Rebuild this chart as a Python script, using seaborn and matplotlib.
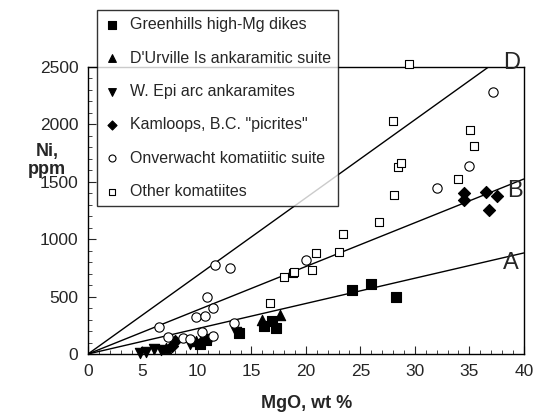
import numpy as np
import matplotlib
matplotlib.use("Agg")
import matplotlib.pyplot as plt
import seaborn as sns
from matplotlib.ticker import MultipleLocator

sns.set_style("ticks")
plt.rcParams["font.family"] = ["Liberation Sans", "DejaVu Sans"]

# data
greenhills_x = [10.3, 10.8, 13.9, 16.2, 16.9, 17.3, 24.2, 26.0, 28.3]
greenhills_y = [85, 125, 183, 240, 285, 226, 557, 610, 497]

durville_x = [7.2, 9.9, 10.5, 16.0, 17.6]
durville_y = [50, 110, 135, 300, 340]

epi_x = [4.8, 5.3, 6.1, 6.7, 9.4, 11.2, 13.6]
epi_y = [10, 20, 40, 35, 90, 130, 190]

kamloops_x = [7.7, 8.0, 34.5, 34.5, 36.5, 37.5, 36.8]
kamloops_y = [70, 115, 1400, 1340, 1410, 1375, 1250]

onver_x = [6.5, 7.3, 8.7, 9.4, 9.9, 10.5, 10.7, 10.9, 11.5, 11.5, 11.7, 13.0, 13.4, 20.0, 32.0, 35.0, 37.2]
onver_y = [235, 148, 139, 131, 322, 192, 331, 497, 401, 157, 775, 749, 270, 819, 1446, 1638, 2282]

other_x = [16.7, 18.0, 18.8, 18.9, 20.6, 20.9, 23.0, 23.4, 26.7, 28.1, 28.5, 28.7, 34.0, 35.4, 35.1, 28.0, 29.5]
other_y = [444, 671, 706, 716, 732, 880, 888, 1045, 1150, 1385, 1629, 1660, 1524, 1812, 1951, 2026, 2530]

ref_names = ["A", "B", "D"]
ref_slopes = [22.0, 38.1, 68.0]
ref_label_x = [38.8, 39.2, 38.9]
ref_label_y = [793, 1420, 2535]

fig = plt.figure(figsize=(5.35, 4.15), dpi=100)
ax = fig.add_axes([0.1645, 0.147, 0.8145, 0.6916])

for slope in ref_slopes:
    x_end = min(40, 2500 / slope)
    ax.plot([0, x_end], [0, slope * x_end], color="black", lw=1.0, zorder=1)

groups = [
    (greenhills_x, greenhills_y, "s", "black", 55, "Greenhills high-Mg dikes"),
    (durville_x, durville_y, "^", "black", 55, "D'Urville Is ankaramitic suite"),
    (epi_x, epi_y, "v", "black", 55, "W. Epi arc ankaramites"),
    (kamloops_x, kamloops_y, "D", "black", 38, 'Kamloops, B.C. "picrites"'),
    (onver_x, onver_y, "o", "white", 45, "Onverwacht komatiitic suite"),
    (other_x, other_y, "s", "white", 40, "Other komatiites"),
]
for gx, gy, mk, fc, sz, lab in groups:
    sns.scatterplot(x=gx, y=gy, marker=mk, color=fc, edgecolor="black",
                    linewidth=0.8, s=sz, ax=ax, label=lab, clip_on=False, zorder=3)

for name, lx, ly in zip(ref_names, ref_label_x, ref_label_y):
    ax.text(lx, ly, name, fontsize=17, ha="center", va="center", zorder=4)

ax.set_xlim(0, 40)
ax.set_ylim(0, 2500)
ax.xaxis.set_major_locator(MultipleLocator(5))
ax.xaxis.set_minor_locator(MultipleLocator(1))
ax.yaxis.set_major_locator(MultipleLocator(500))
ax.yaxis.set_minor_locator(MultipleLocator(100))
ax.tick_params(which="major", direction="in", length=6, width=0.8, labelsize=12.5, pad=7)
ax.tick_params(which="minor", direction="in", length=3, width=0.6)
for sp in ax.spines.values():
    sp.set_color("black")
    sp.set_linewidth(1.0)

ax.set_xlabel("")
ax.set_ylabel("")
fig.text(0.574, 0.027, "MgO, wt %", fontsize=13, fontweight="bold", ha="center", va="center")
fig.text(0.088, 0.614, "Ni,\nppm", fontsize=13, fontweight="bold", ha="center", va="center",
         linespacing=1.1)

leg = ax.legend(loc="upper left", bbox_to_anchor=(97 / 535, 1 - 10 / 415),
                bbox_transform=fig.transFigure, frameon=True, fancybox=False,
                fontsize=11.5, labelspacing=1.15, handletextpad=0.6, handlelength=1.0,
                borderpad=0.45, borderaxespad=0, markerscale=0.75)
leg.get_frame().set_edgecolor("black")
leg.get_frame().set_linewidth(1.0)
leg.set_zorder(5)

fig.savefig("out.png", dpi=100)
